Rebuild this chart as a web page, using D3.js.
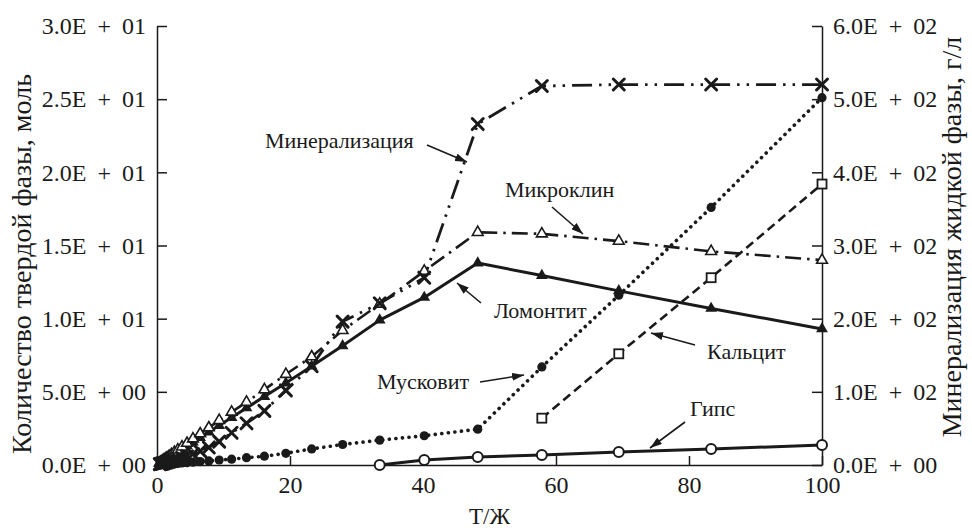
<!DOCTYPE html>
<html>
<head>
<meta charset="utf-8">
<script src="https://cdn.jsdelivr.net/npm/d3@7"></script>
<style>
  html, body { margin: 0; padding: 0; background: #fff; }
  svg { display: block; }
</style>
</head>
<body>
<svg id="chart" width="972" height="531"></svg>
<script>
// Т/Ж ratio steps
const ratio = [0.42, 0.51, 0.61, 0.73, 0.87, 1.05, 1.26, 1.51, 1.81, 2.17, 2.61, 3.13, 3.76, 4.51, 5.41, 6.49, 7.79, 9.35, 11.22, 13.46, 16.15, 19.38, 23.26, 27.91, 33.49, 40.19, 48.23, 57.87, 69.44, 83.33, 100];

// solid phases, mol (left axis)
const lomontite = [0.12, 0.15, 0.18, 0.21, 0.25, 0.30, 0.36, 0.43, 0.52, 0.62, 0.75, 0.90, 1.08, 1.30, 1.56, 1.87, 2.25, 2.70, 3.24, 3.90, 4.68, 5.60, 6.75, 8.15, 9.90, 11.45, 13.8, 12.95, 11.9, 10.7, 9.3];
const microcline = [0.14, 0.17, 0.20, 0.24, 0.29, 0.35, 0.42, 0.50, 0.60, 0.72, 0.86, 1.03, 1.24, 1.49, 1.79, 2.14, 2.55, 3.05, 3.62, 4.30, 5.15, 6.20, 7.40, 9.20, 11.0, 13.25, 15.9, 15.8, 15.3, 14.6, 14.0];
const muscovite = [0.015, 0.018, 0.022, 0.026, 0.031, 0.038, 0.045, 0.054, 0.065, 0.078, 0.094, 0.11, 0.135, 0.16, 0.195, 0.235, 0.28, 0.34, 0.40, 0.50, 0.60, 0.80, 1.10, 1.40, 1.70, 2.00, 2.45, 6.70, 11.6, 17.6, 25.1];
const calcite = [null, null, null, null, null, null, null, null, null, null, null, null, null, null, null, null, null, null, null, null, null, null, null, null, null, null, null, 3.2, 7.6, 12.8, 19.2];
const gypsum = [null, null, null, null, null, null, null, null, null, null, null, null, null, null, null, null, null, null, null, null, null, null, null, null, 0.0, 0.34, 0.55, 0.68, 0.89, 1.1, 1.36];

// liquid phase mineralization, g/l (right axis)
const mineralization = [1.2, 1.4, 1.6, 1.9, 2.2, 2.6, 3.1, 3.7, 4.5, 5.4, 6.5, 8.0, 9.8, 12, 15, 19, 24, 32, 44, 57, 74, 102, 135, 196, 221, 256, 466, 518, 520, 520, 520];

// axis ticks
const xTicks = [0, 20, 40, 60, 80, 100];
const leftTicks = [0, 5, 10, 15, 20, 25, 30];
const leftTickLabels = ["0.0E + 00", "5.0E + 00", "1.0E + 01", "1.5E + 01", "2.0E + 01", "2.5E + 01", "3.0E + 01"];
const rightTicks = [0, 100, 200, 300, 400, 500, 600];
const rightTickLabels = ["0.0E + 00", "1.0E + 02", "2.0E + 02", "3.0E + 02", "4.0E + 02", "5.0E + 02", "6.0E + 02"];

const FONT = "Liberation Serif";
const svg = d3.select("#chart");
const W = 972, H = 531;
const margin = { left: 157, right: 150, top: 26, bottom: 66 };
const x0 = margin.left, x1 = W - margin.right, yTop = margin.top, yBot = H - margin.bottom;
const ink = "#1a1a1a";

const x = d3.scaleLinear().domain([0, 100]).range([x0, x1]);
const yL = d3.scaleLinear().domain([0, 30]).range([yBot, yTop]);
const yR = d3.scaleLinear().domain([0, 600]).range([yBot, yTop]);

// axes
const gx = svg.append("g").attr("transform", `translate(0,${yBot})`)
  .call(d3.axisBottom(x).tickValues(xTicks).tickSizeInner(-9).tickSizeOuter(0).tickPadding(9).tickFormat(d3.format("d")));
const gl = svg.append("g").attr("transform", `translate(${x0},0)`)
  .call(d3.axisLeft(yL).tickValues(leftTicks).tickSizeInner(-10).tickSizeOuter(0).tickPadding(11)
    .tickFormat((d, i) => leftTickLabels[i]));
const gr = svg.append("g").attr("transform", `translate(${x1},0)`)
  .call(d3.axisRight(yR).tickValues(rightTicks).tickSizeInner(-10).tickSizeOuter(0).tickPadding(11)
    .tickFormat((d, i) => rightTickLabels[i]));
[gx, gl, gr].forEach(g => {
  g.attr("font-family", FONT).attr("font-size", 24);
  g.select(".domain").attr("stroke", ink).attr("stroke-width", 1.5);
  g.selectAll(".tick line").attr("stroke", ink).attr("stroke-width", 1.5);
  g.selectAll(".tick text").attr("fill", ink);
});
gl.selectAll(".tick text").style("word-spacing", "5px");
gr.selectAll(".tick text").style("word-spacing", "5px");
gx.selectAll(".tick text").attr("dy", "0.8em");

// axis titles
svg.append("text").attr("x", (x0 + x1) / 2).attr("y", 524).attr("text-anchor", "middle")
  .attr("font-family", FONT).attr("font-size", 23).attr("fill", ink).text("Т/Ж");
svg.append("text").attr("transform", `translate(31,264) rotate(-90)`)
  .attr("text-anchor", "middle").attr("font-family", FONT).attr("font-size", 28).attr("fill", ink)
  .text("Количество твердой фазы, моль");
svg.append("text").attr("transform", `translate(961,237) rotate(-90)`)
  .attr("text-anchor", "middle").attr("font-family", FONT).attr("font-size", 28).attr("fill", ink)
  .text("Минерализация жидкой фазы, г/л");

// series definitions
const series = [
  { vals: gypsum, y: yL, dash: null, width: 3, marker: "openCircle" },
  { vals: calcite, y: yL, dash: "9,5", width: 2.6, marker: "openSquare" },
  { vals: muscovite, y: yL, dash: "0.1,6.5", width: 3.6, cap: "round", marker: "dot" },
  { vals: lomontite, y: yL, dash: null, width: 3, marker: "triFilled" },
  { vals: microcline, y: yL, dash: "16,6,2.5,6", width: 2.6, marker: "triOpen" },
  { vals: mineralization, y: yR, dash: "20,7,2.5,7,2.5,7", width: 2.8, marker: "cross" }
];

const plot = svg.append("g");
series.forEach(s => {
  const pts = ratio.map((r, i) => ({ r, v: s.vals[i] })).filter(p => p.v !== null);
  s.pts = pts;
  const line = d3.line().x(p => x(p.r)).y(p => s.y(p.v));
  plot.append("path").datum(pts).attr("d", line)
    .attr("fill", "none").attr("stroke", ink).attr("stroke-width", s.width)
    .attr("stroke-dasharray", s.dash).attr("stroke-linecap", s.cap || "butt")
    .attr("stroke-linejoin", "round");
});

const triFilled = d3.symbol().type(d3.symbolTriangle).size(60)();
const triOpen = d3.symbol().type(d3.symbolTriangle).size(50)();
series.forEach(s => {
  const g = plot.append("g");
  s.pts.forEach(p => {
    const cx = x(p.r), cy = s.y(p.v);
    if (s.marker === "openCircle") {
      g.append("circle").attr("cx", cx).attr("cy", cy).attr("r", 5)
        .attr("fill", "#fff").attr("stroke", ink).attr("stroke-width", 2);
    } else if (s.marker === "openSquare") {
      g.append("rect").attr("x", cx - 4.5).attr("y", cy - 4.5).attr("width", 9).attr("height", 9)
        .attr("fill", "#fff").attr("stroke", ink).attr("stroke-width", 1.8);
    } else if (s.marker === "dot") {
      g.append("circle").attr("cx", cx).attr("cy", cy).attr("r", 4.6).attr("fill", ink);
    } else if (s.marker === "triFilled") {
      g.append("path").attr("d", triFilled).attr("transform", `translate(${cx},${cy})`).attr("fill", ink);
    } else if (s.marker === "triOpen") {
      g.append("path").attr("d", triOpen).attr("transform", `translate(${cx},${cy})`)
        .attr("fill", "#fff").attr("stroke", ink).attr("stroke-width", 1.6);
    } else if (s.marker === "cross") {
      const a = 5.5;
      g.append("path").attr("d", `M${cx - a},${cy - a}L${cx + a},${cy + a}M${cx - a},${cy + a}L${cx + a},${cy - a}`)
        .attr("stroke", ink).attr("stroke-width", 3).attr("stroke-linecap", "round");
    }
  });
});

// annotations with arrows
const defs = svg.append("defs");
defs.append("marker").attr("id", "arrowhead").attr("viewBox", "0 0 12 8")
  .attr("refX", 12).attr("refY", 4).attr("markerWidth", 12).attr("markerHeight", 8)
  .attr("markerUnits", "userSpaceOnUse").attr("orient", "auto")
  .append("path").attr("d", "M0,0L12,4L0,8Z").attr("fill", ink);

const notes = [
  { text: "Минерализация", tx: 265, ty: 148, from: [427, 145], to: [467, 162] },
  { text: "Микроклин", tx: 505, ty: 197, from: [552, 207], to: [583, 234] },
  { text: "Ломонтит", tx: 494, ty: 318, from: [481, 303], to: [457, 283] },
  { text: "Кальцит", tx: 707, ty: 359, from: [695, 345], to: [651, 333] },
  { text: "Мусковит", tx: 377, ty: 389, from: [480, 382], to: [524, 375] },
  { text: "Гипс", tx: 690, ty: 416, from: [685, 422], to: [650, 448] }
];
notes.forEach(n => {
  svg.append("text").attr("x", n.tx).attr("y", n.ty)
    .attr("font-family", FONT).attr("font-size", 22).attr("fill", ink).text(n.text);
  svg.append("line").attr("x1", n.from[0]).attr("y1", n.from[1]).attr("x2", n.to[0]).attr("y2", n.to[1])
    .attr("stroke", ink).attr("stroke-width", 1.6).attr("marker-end", "url(#arrowhead)");
});
</script>
</body>
</html>
